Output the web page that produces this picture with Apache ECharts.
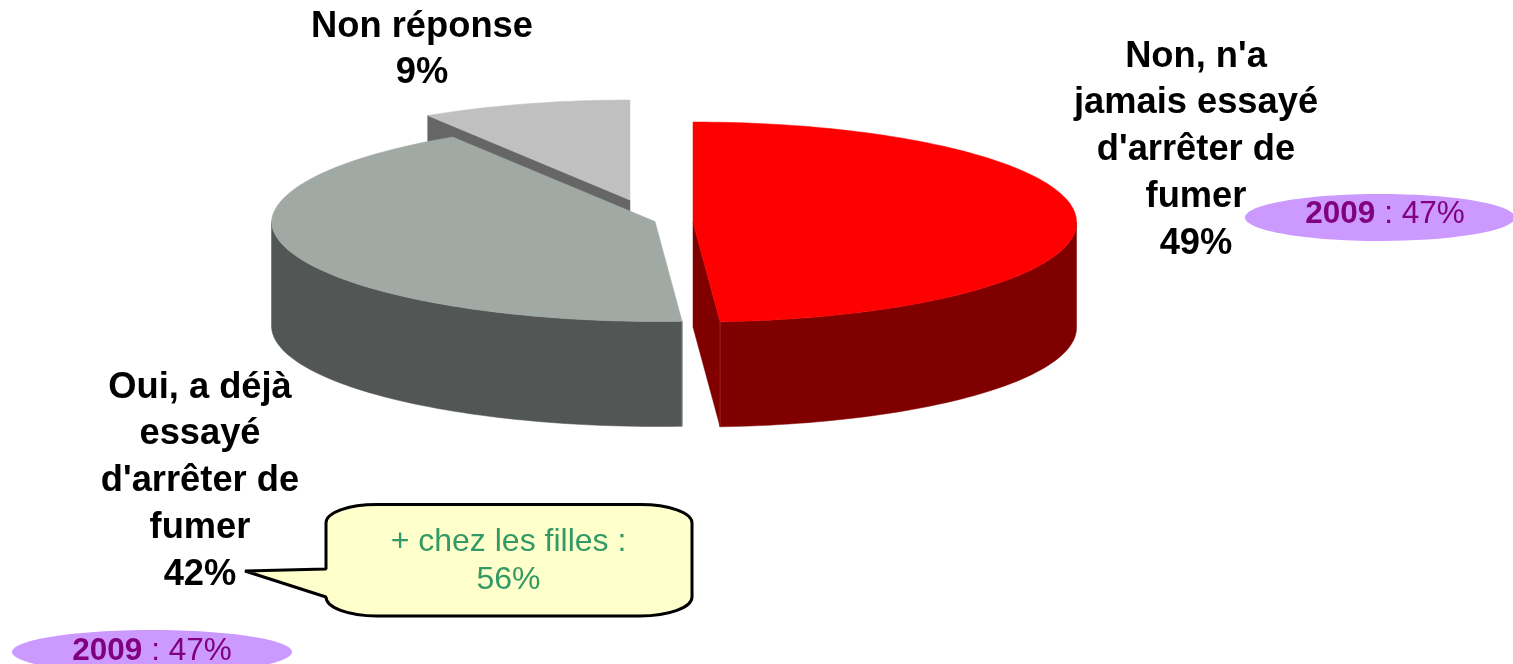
<!DOCTYPE html>
<html>
<head>
<meta charset="utf-8">
<style>html,body{margin:0;padding:0;background:#fff;overflow:hidden}#c{width:1513px;height:664px}</style>
<script src="https://cdn.jsdelivr.net/npm/echarts@6/dist/echarts.min.js"></script>
</head>
<body>
<div id="c"></div>
<script>
const categories = ["Non, n'a jamais essayé d'arrêter de fumer", "Oui, a déjà essayé d'arrêter de fumer", "Non réponse"];
const values = [49, 42, 9];
const labelLines = [
  ["Non, n'a", "jamais essayé", "d'arrêter de", "fumer", "49%"],
  ["Oui, a déjà", "essayé", "d'arrêter de", "fumer", "42%"],
  ["Non réponse", "9%"]
];
const topColors = ["#ff0000", "#a0a9a3", "#c0c0c0"];
const wallColors = ["#800000", "#525755", "#666666"];
const edgeColors = ["#9c2020", "#8a908d", "#666666"];
const sliceCenters = [[693, 222], [655, 221.5], [630, 200]];
const labelPos = [[1196, 54], [200, 385], [422, 24]];
const lineStep = 46.8;
const calloutLines = ["+ chez les filles :", "56%"];
const trendYear = "2009";
const trendText = " : 47%";

const RX = 383.5, RY = 100, DEPTH = 105, SKEW = 3, BACK_SKEW = 7;
const total = values.reduce((a, b) => a + b, 0);
const starts = [];
values.reduce((acc, v, i) => { starts[i] = acc; return acc + v; }, 0);

function rimPoint(c, deg) {
  const a = deg * Math.PI / 180;
  const cs = Math.cos(a), sn = Math.sin(a);
  let x = c[0] + RX * sn;
  if (cs < 0) x += -cs * SKEW;
  if (cs > 0 && sn < 0) x += -sn * cs * BACK_SKEW;
  return [x, c[1] - RY * cs];
}
function arc(c, from, to) {
  const n = Math.max(2, Math.ceil(Math.abs(to - from) / 1.5));
  const pts = [];
  for (let i = 0; i <= n; i++) pts.push(rimPoint(c, from + (to - from) * i / n));
  return pts;
}
const drop = (p) => [p[0], p[1] + DEPTH];

function renderSlice(params, api) {
  const i = api.value(0);
  const a0 = api.value(2) / total * 360;
  const a1 = a0 + api.value(1) / total * 360;
  const c = sliceCenters[i];
  const kids = [];
  const poly = (points, fill) => kids.push({ type: 'polygon', shape: { points }, style: { fill, stroke: fill, lineWidth: 0.5 } });
  const radialWall = (deg) => {
    const e = rimPoint(c, deg);
    poly([c, e, drop(e), drop(c)], wallColors[i]);
  };
  if (Math.sin(a0 * Math.PI / 180) < -1e-6) radialWall(a0);
  if (Math.sin(a1 * Math.PI / 180) > 1e-6) radialWall(a1);
  const lo = Math.max(a0, 90), hi = Math.min(a1, 270);
  if (hi > lo) {
    const top = arc(c, lo, hi);
    poly(top.concat(top.map(drop).reverse()), wallColors[i]);
    const edgeDeg = lo > 90 ? lo : (hi < 270 ? hi : null);
    if (edgeDeg !== null) {
      const e = rimPoint(c, edgeDeg);
      kids.push({ type: 'line', shape: { x1: e[0], y1: e[1], x2: e[0], y2: e[1] + DEPTH }, style: { stroke: edgeColors[i], lineWidth: 1 } });
    }
  }
  poly([c].concat(arc(c, a0, a1)), topColors[i]);
  return { type: 'group', children: kids };
}

function renderCallout() {
  return {
    type: 'path',
    z2: 10,
    shape: { pathData: 'M326 569 L326 523 C326 512.5 348 504.5 377 504.5 L640 504.5 C669 504.5 692 512.5 692 523 L692 597 C692 607.5 669 616 640 616 L377 616 C348 616 326 607.5 326 597 L245 571 Z' },
    style: { fill: '#ffffcc', stroke: '#000', lineWidth: 3, lineJoin: 'bevel' }
  };
}

const textStyleBold = { fontFamily: '"Liberation Sans", Arial, sans-serif', fontWeight: 'bold', fontSize: 36.3, fill: '#000', textAlign: 'center', textVerticalAlign: 'middle' };
const graphics = [];
labelLines.forEach((lines, i) => lines.forEach((t, k) => graphics.push({
  type: 'text', x: labelPos[i][0], y: labelPos[i][1] + 2.5 + k * lineStep, z: 5, style: Object.assign({ text: t }, textStyleBold)
})));

function trend(cx, cy, rx, ry, tx, ty) {
  graphics.push({ type: 'ellipse', z: 6, shape: { cx, cy, rx, ry }, style: { fill: '#cc99ff' } });
  graphics.push({
    type: 'text', x: tx, y: ty, z: 7,
    style: {
      text: '{b|' + trendYear + '}{n|' + trendText + '}', align: 'center', verticalAlign: 'middle',
      rich: {
        b: { fontFamily: '"Liberation Sans"', fontWeight: 'bold', fontSize: 31.5, fill: '#800080' },
        n: { fontFamily: '"Liberation Sans"', fontSize: 31.5, fill: '#800080' }
      }
    }
  });
}
trend(1380, 217.5, 135, 23.5, 1385, 214);
trend(152, 652, 140, 22, 152, 651.5);

calloutLines.forEach((t, k) => graphics.push({
  type: 'text', x: 508.5, y: 542.5 + k * 38, z: 9,
  style: { text: t, fontFamily: '"Liberation Sans"', fontSize: 32, fill: '#339966', textAlign: 'center', textVerticalAlign: 'middle' }
}));

const order = [2, 1, 0];
const chart = echarts.init(document.getElementById('c'), null, { renderer: 'canvas' });
chart.setOption({
  animation: false,
  backgroundColor: '#fff',
  series: [{
    type: 'custom',
    coordinateSystem: 'none',
    renderItem: renderSlice,
    encode: { itemName: 3 },
    data: order.map(i => [i, values[i], starts[i], categories[i]])
  }, {
    type: 'custom',
    coordinateSystem: 'none',
    renderItem: renderCallout,
    z: 4,
    data: [[0]]
  }],
  graphic: { elements: graphics }
});
</script>
</body>
</html>
